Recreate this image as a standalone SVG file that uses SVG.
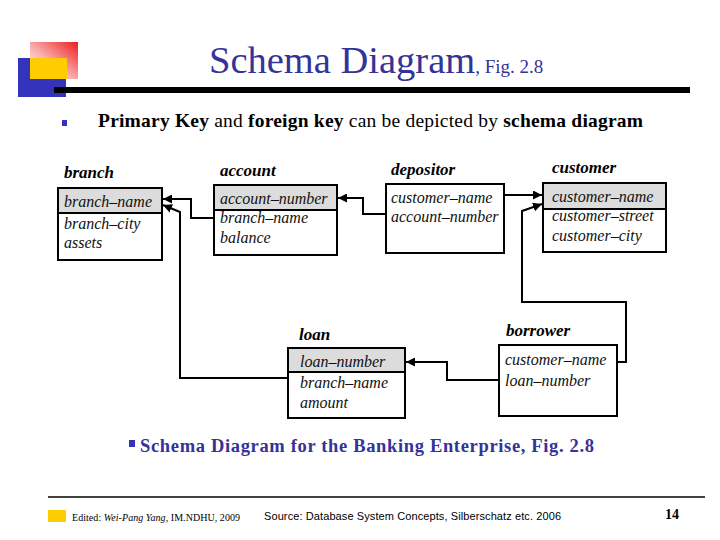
<svg xmlns="http://www.w3.org/2000/svg" width="720" height="540" viewBox="0 0 720 540">
<defs>
<linearGradient id="redg" x1="0" y1="1" x2="1" y2="0">
<stop offset="0" stop-color="#ffffff"/>
<stop offset="0.45" stop-color="#f8b0b0"/>
<stop offset="1" stop-color="#ee1c1c"/>
</linearGradient>
<marker id="arr" viewBox="0 0 10 10" refX="10" refY="5" markerWidth="9" markerHeight="9" markerUnits="userSpaceOnUse" orient="auto">
<path d="M0,0 L10,5 L0,10 z" fill="#000"/>
</marker>
<style>
.box{fill:#fff;stroke:#000;stroke-width:2}
.hdr{fill:#dcdcdc;stroke:#000;stroke-width:2}
.fld{font-family:"Liberation Serif",serif;font-style:italic;font-size:16px;fill:#111}
.ttl{font-family:"Liberation Serif",serif;font-style:italic;font-weight:bold;font-size:17px;fill:#000}
.con{fill:none;stroke:#000;stroke-width:2;marker-end:url(#arr)}
</style>
</defs>
<rect width="720" height="540" fill="#fff"/>
<g id="logo">
<rect x="30" y="42" width="48" height="37" fill="url(#redg)"/>
<rect x="18" y="58" width="48" height="39" fill="#3333bb"/>
<rect x="30" y="58" width="37" height="21" fill="#ffcc00"/>
<rect x="54" y="87" width="636" height="6" fill="#000"/>
</g>
<g id="title">
<text x="209" y="73" font-family="Liberation Serif, serif" font-size="38.5" fill="#333399">Schema Diagram<tspan font-size="19">, Fig. 2.8</tspan></text>
</g>
<g id="bullet">
<rect x="62" y="120" width="5" height="6" fill="#3333bb"/>
<text x="98" y="127" font-family="Liberation Serif, serif" font-size="19.5" fill="#000" textLength="545"><tspan font-weight="bold">Primary Key</tspan> and <tspan font-weight="bold">foreign key</tspan> can be depicted by <tspan font-weight="bold">schema diagram</tspan></text>
</g>
<g id="branch">
<text class="ttl" x="64" y="178">branch</text>
<rect class="box" x="58" y="188" width="104" height="72"/>
<rect class="hdr" x="58" y="188" width="104" height="25"/>
<text class="fld" x="64" y="207">branch–name</text>
<text class="fld" x="64" y="229">branch–city</text>
<text class="fld" x="64" y="248">assets</text>
</g>
<g id="account">
<text class="ttl" x="220" y="176">account</text>
<rect class="box" x="214" y="185" width="123" height="70"/>
<rect class="hdr" x="214" y="185" width="123" height="25"/>
<text class="fld" x="220" y="204">account–number</text>
<text class="fld" x="220" y="223">branch–name</text>
<text class="fld" x="220" y="243">balance</text>
</g>
<g id="depositor">
<text class="ttl" x="391" y="175">depositor</text>
<rect class="box" x="386" y="184" width="118" height="69"/>
<text class="fld" x="391" y="203">customer–name</text>
<text class="fld" x="391" y="222">account–number</text>
</g>
<g id="customer">
<text class="ttl" x="552" y="173">customer</text>
<rect class="box" x="543" y="183" width="123" height="69"/>
<rect class="hdr" x="543" y="183" width="123" height="26"/>
<text class="fld" x="552" y="202">customer–name</text>
<text class="fld" x="552" y="221">customer–street</text>
<text class="fld" x="552" y="241">customer–city</text>
</g>
<g id="loan">
<text class="ttl" x="299" y="340">loan</text>
<rect class="box" x="288" y="348" width="117" height="70"/>
<rect class="hdr" x="288" y="348" width="117" height="24"/>
<text class="fld" x="300" y="367">loan–number</text>
<text class="fld" x="300" y="388">branch–name</text>
<text class="fld" x="300" y="408">amount</text>
</g>
<g id="borrower">
<text class="ttl" x="506" y="336">borrower</text>
<rect class="box" x="499" y="345" width="118" height="71"/>
<text class="fld" x="505" y="365">customer–name</text>
<text class="fld" x="505" y="386">loan–number</text>
</g>
<g id="connectors">
<polyline class="con" points="214,218 191,218 191,199 163,199"/>
<polyline class="con" points="288,378 180,378 180,212 163,205"/>
<polyline class="con" points="386,214 363,214 363,198 338,198"/>
<polyline class="con" points="504,195 542,195"/>
<polyline class="con" points="617,362 626,362 626,302 522,302 522,211 542,204"/>
<polyline class="con" points="499,380 447,380 447,362 406,362"/>
</g>
<g id="caption">
<rect x="129" y="440" width="6" height="7" fill="#3333bb"/>
<text x="140" y="452" font-family="Liberation Serif, serif" font-size="18.5" font-weight="bold" fill="#333399" textLength="454">Schema Diagram for the Banking Enterprise, Fig. 2.8</text>
</g>
<g id="footer">
<line x1="48" y1="497" x2="705" y2="497" stroke="#000" stroke-width="1.5"/>
<rect x="48" y="510" width="18" height="12" fill="#ffcc00"/>
<text x="72" y="521" font-family="Liberation Serif, serif" font-size="10" fill="#000" textLength="168">Edited: <tspan font-style="italic">Wei-Pang Yang</tspan>, IM.NDHU, 2009</text>
<text x="264" y="520" font-family="Liberation Sans, sans-serif" font-size="11" fill="#000" textLength="297">Source: Database System Concepts, Silberschatz etc. 2006</text>
<text x="665" y="519" font-family="Liberation Serif, serif" font-size="14" font-weight="bold" fill="#000">14</text>
</g>
</svg>
